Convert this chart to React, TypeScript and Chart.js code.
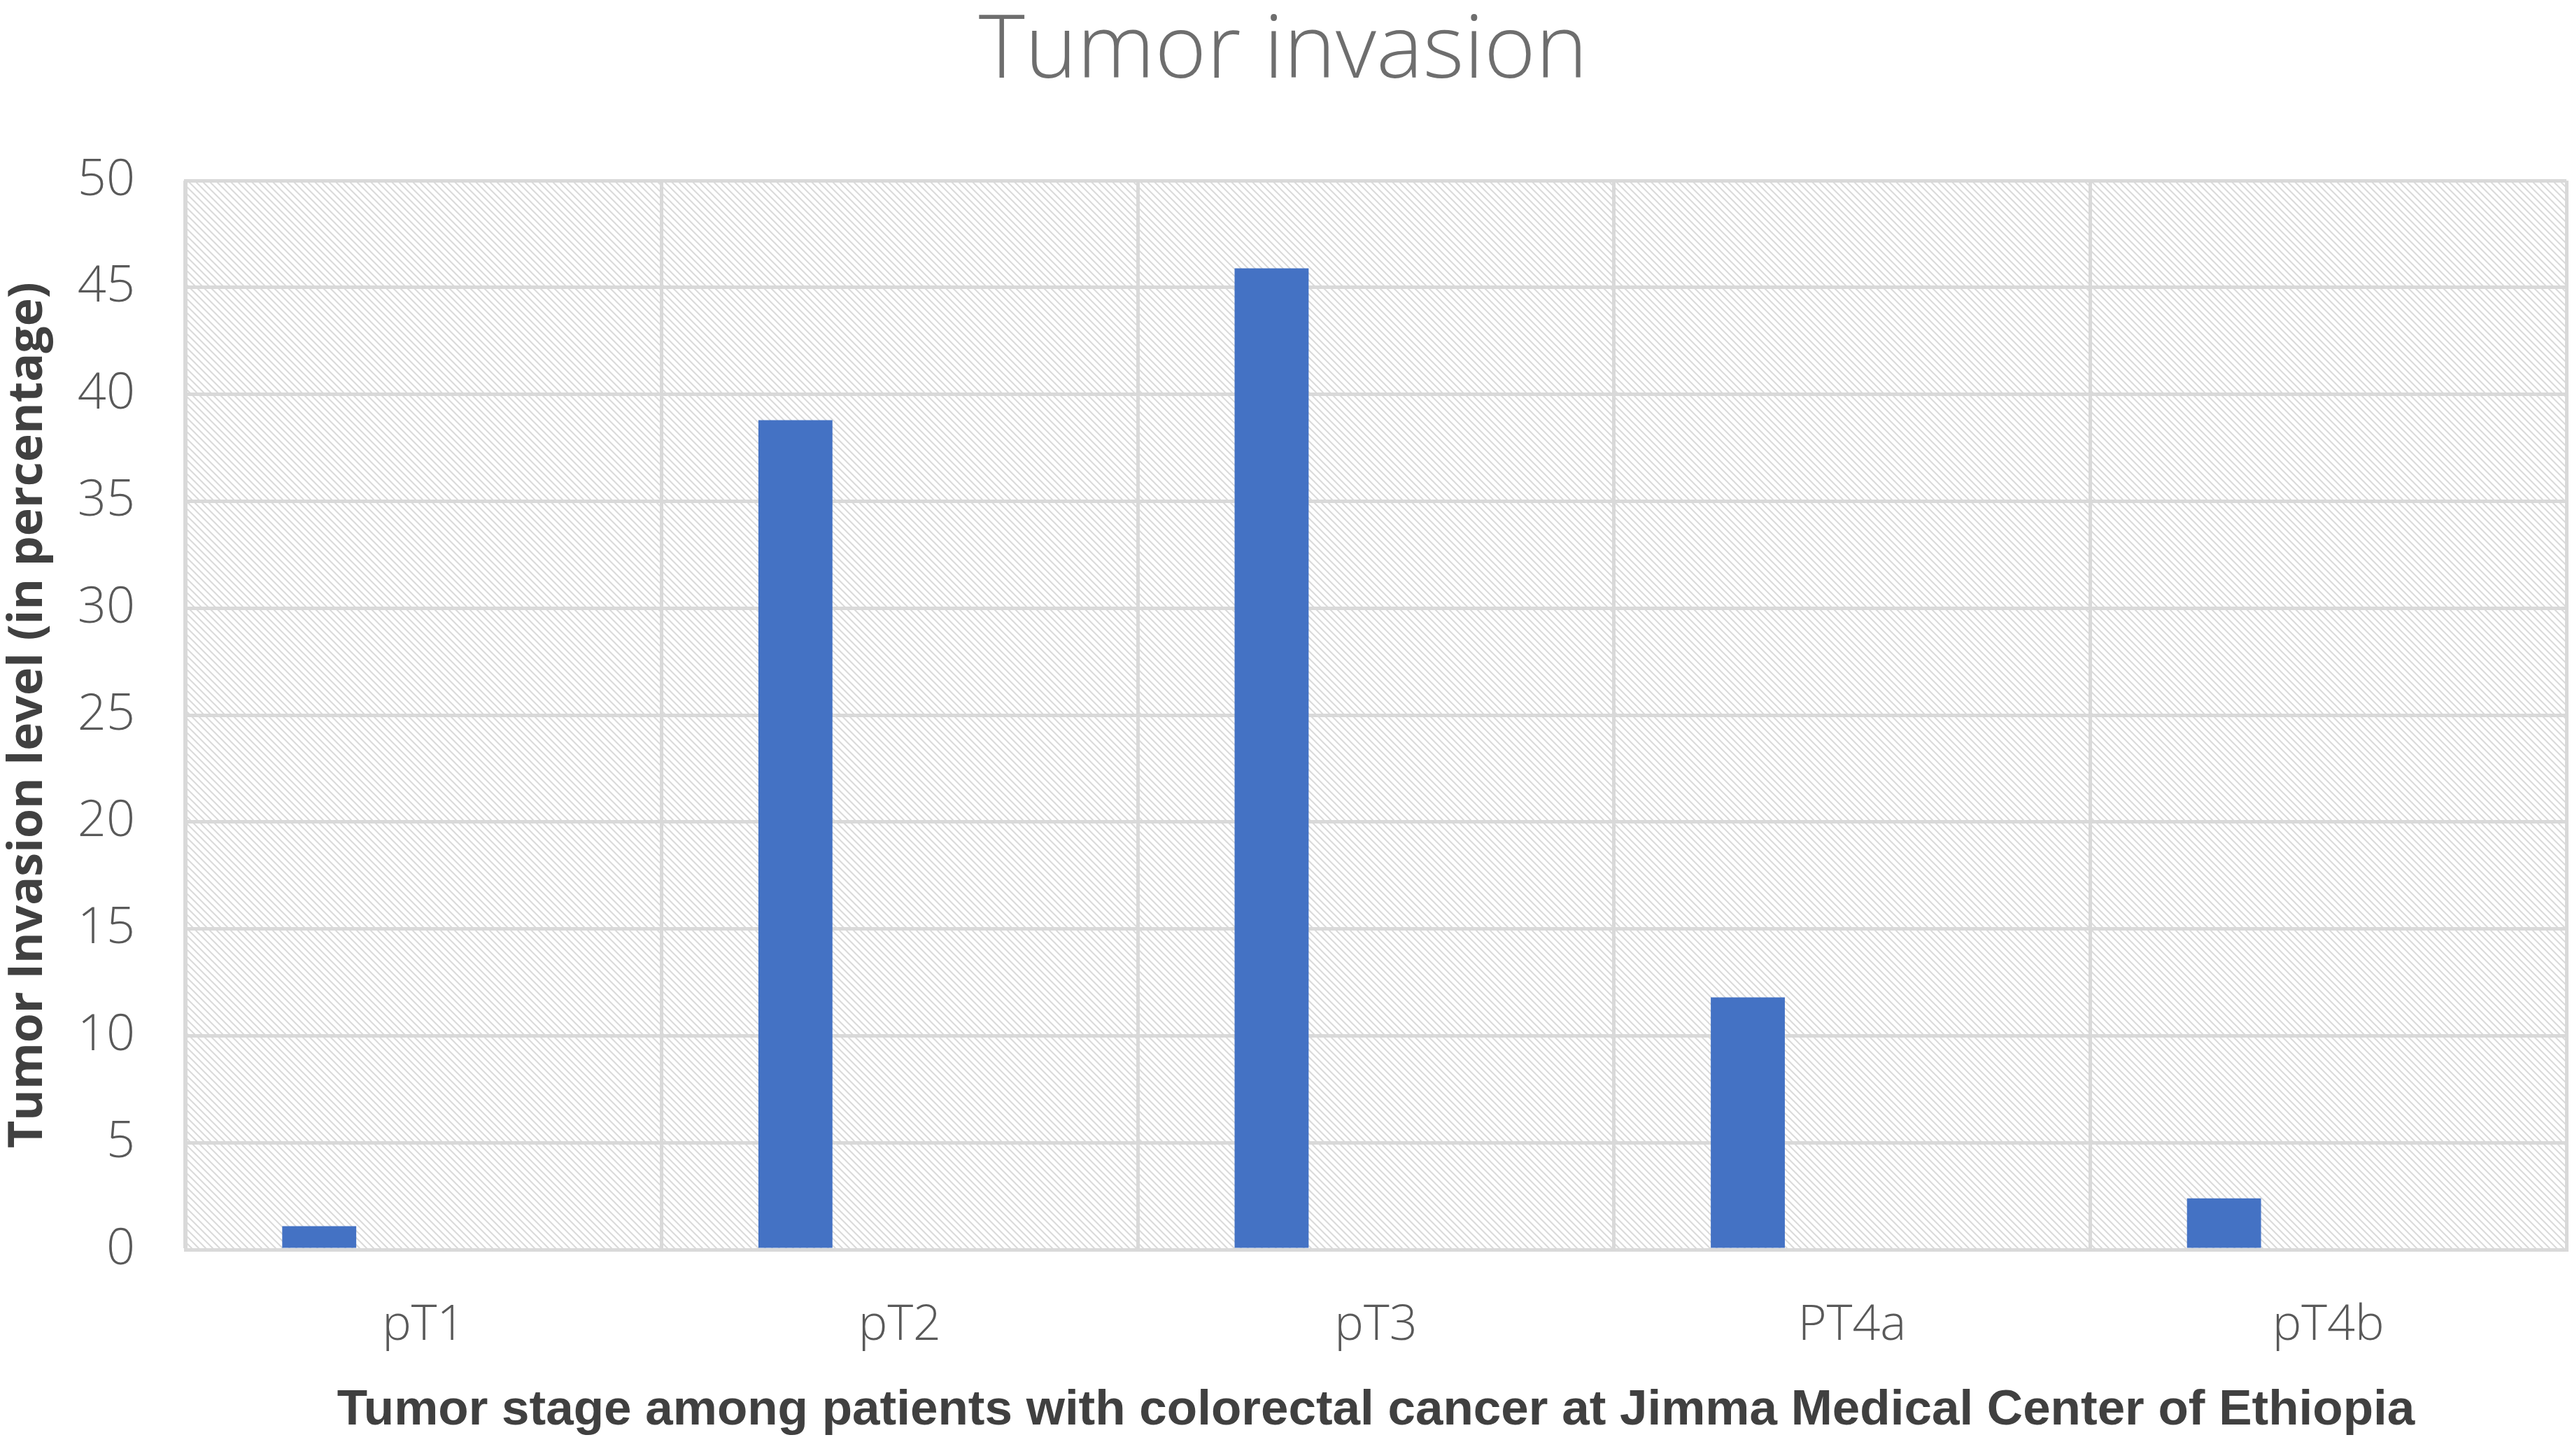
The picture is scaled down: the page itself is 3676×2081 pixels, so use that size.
import React, { useEffect, useRef } from "react";
import { Chart, registerables } from "chart.js";

Chart.register(...registerables);

const categories = ["pT1", "pT2", "pT3", "PT4a", "pT4b"];
const invasionValues = [1.1, 38.8, 45.9, 11.8, 2.4];
// Empty companion series (the source chart reserves slots for them)
const emptySeriesA: (number | null)[] = [null, null, null, null, null];
const emptySeriesB: (number | null)[] = [null, null, null, null, null];
const yTickValues = [0, 5, 10, 15, 20, 25, 30, 35, 40, 45, 50];

const chartTitle = "Tumor invasion";
const xTitle = "Tumor stage among patients with colorectal cancer at Jimma Medical Center of Ethiopia";
const yTitle = "Tumor Invasion level (in percentage)";

const W = 3676;
const H = 2081;

const hatchPlugin = {
  id: "hatch",
  beforeDraw(chart: any) {
    const { ctx, chartArea } = chart;
    if (!chartArea) return;
    const tile = document.createElement("canvas");
    const s = 10;
    tile.width = s;
    tile.height = s;
    const t = tile.getContext("2d")!;
    t.fillStyle = "#ffffff";
    t.fillRect(0, 0, s, s);
    t.strokeStyle = "#dadada";
    t.lineWidth = 2;
    t.beginPath();
    t.moveTo(-1, -1);
    t.lineTo(s + 1, s + 1);
    t.moveTo(-1, s - 1);
    t.lineTo(1, s + 1);
    t.moveTo(s - 1, -1);
    t.lineTo(s + 1, 1);
    t.stroke();
    const pattern = ctx.createPattern(tile, "repeat");
    ctx.save();
    ctx.fillStyle = pattern;
    ctx.fillRect(chartArea.left, chartArea.top, chartArea.right - chartArea.left, chartArea.bottom - chartArea.top);
    ctx.restore();
  },
};

export default function App() {
  const ref = useRef<HTMLCanvasElement | null>(null);

  useEffect(() => {
    document.body.style.margin = "0";
    const canvas = ref.current;
    if (!canvas) return;
    const chart = new Chart(canvas, {
      type: "bar",
      data: {
        labels: categories,
        datasets: [
          {
            label: "Tumor invasion",
            data: invasionValues,
            backgroundColor: "#4472c4",
            borderWidth: 0,
            categoryPercentage: 0.657,
            barPercentage: 0.71,
          },
          {
            label: "",
            data: emptySeriesA,
            backgroundColor: "#ed7d31",
            categoryPercentage: 0.657,
            barPercentage: 0.71,
          },
          {
            label: "",
            data: emptySeriesB,
            backgroundColor: "#a5a5a5",
            categoryPercentage: 0.657,
            barPercentage: 0.71,
          },
        ],
      },
      options: {
        responsive: false,
        devicePixelRatio: 1,
        animation: false,
        layout: { padding: { left: 0, right: 8, top: 0, bottom: 0 } },
        plugins: {
          legend: { display: false },
          tooltip: { enabled: false },
          title: {
            display: true,
            text: chartTitle,
            color: "#6e6e6e",
            font: { family: "'Open Sans', sans-serif", size: 126, weight: "300", lineHeight: 1.2 },
            padding: { top: 0, bottom: 107 },
          },
        },
        scales: {
          x: {
            grid: { color: "#d9d9d9", lineWidth: 5, drawTicks: false, offset: true },
            border: { color: "#d9d9d9", width: 5 },
            ticks: {
              color: "#595959",
              font: { family: "'Open Sans', sans-serif", size: 70, weight: "300" },
              padding: 67,
            },
            title: {
              display: true,
              text: xTitle,
              color: "#404040",
              font: { family: "'Liberation Sans Narrow', 'Arial Narrow', sans-serif", size: 71, weight: "bold", lineHeight: 1.2 },
              padding: { top: 0, bottom: 22 },
            },
            afterFit(scale: any) {
              scale.height = 295;
            },
          },
          y: {
            min: 0,
            max: 50,
            afterBuildTicks(scale: any) {
              scale.ticks = yTickValues.map((v) => ({ value: v }));
            },
            grid: { color: "#d9d9d9", lineWidth: 5, drawTicks: false },
            border: { color: "#d9d9d9", width: 5 },
            ticks: {
              color: "#595959",
              font: { family: "'Open Sans', sans-serif", size: 72, weight: "300" },
              padding: 72,
            },
            title: {
              display: true,
              text: yTitle,
              color: "#404040",
              font: { family: "'Open Sans', sans-serif", size: 68, weight: "bold", lineHeight: 1.2 },
              padding: { top: 0, bottom: 0 },
            },
            afterFit(scale: any) {
              scale.width = 265;
            },
          },
        },
      },
      plugins: [hatchPlugin],
    });
    return () => chart.destroy();
  }, []);

  return (
    <div style={{ width: W, height: H, background: "#ffffff" }}>
      <canvas ref={ref} width={W} height={H} style={{ width: W, height: H, display: "block" }} />
    </div>
  );
}
